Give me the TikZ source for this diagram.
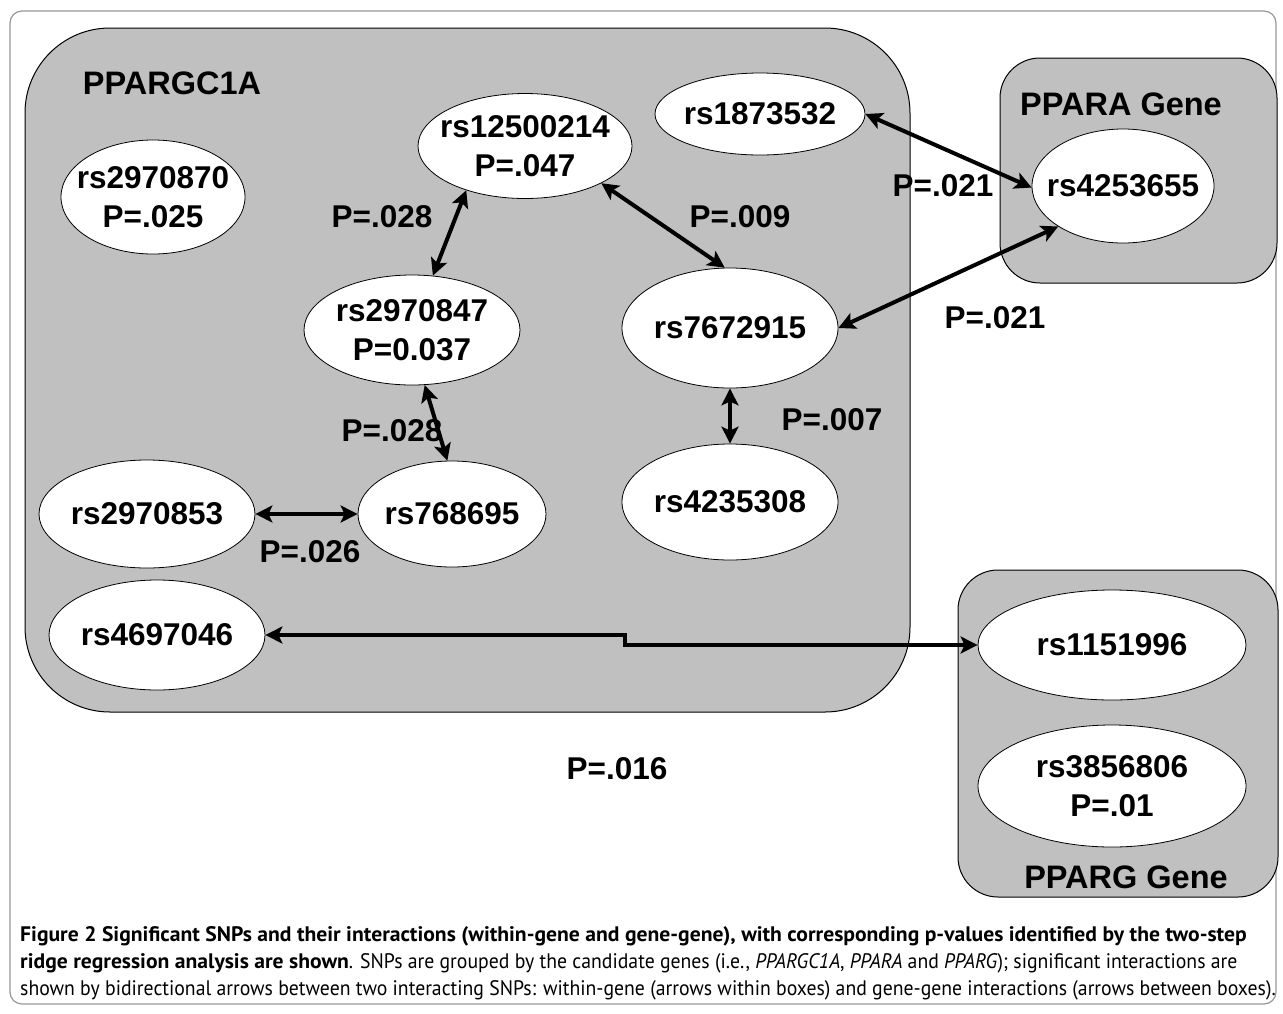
\documentclass[tikz,border=0pt]{standalone}
\usepackage{fontspec}
\setmainfont{Liberation Sans}
\newfontfamily\capfont[FakeStretch=0.94,BoldFeatures={FakeStretch=1.03}]{PT Sans}
\usetikzlibrary{shapes.geometric,arrows.meta}
\definecolor{boxgray}{RGB}{192,192,192}
\definecolor{framegray}{RGB}{150,150,150}
\begin{document}
\begin{tikzpicture}[x=1pt,y=-1pt,
  gene/.style={draw=black, line width=1pt, fill=boxgray},
  snp/.style={ellipse, draw=black, line width=0.8pt, fill=white, inner sep=-40pt, align=center,
    font=\bfseries\fontsize{31.5}{39}\selectfont},
  lbl/.style={font=\bfseries\fontsize{31.5}{36}\selectfont, inner sep=0pt},
  glbl/.style={font=\bfseries\fontsize{32.5}{36}\selectfont, inner sep=0pt},
  arr/.style={{Stealth[length=17pt,width=17pt,inset=4pt]}-{Stealth[length=17pt,width=17pt,inset=4pt]}, line width=4pt},
  captext/.style={font=\capfont\fontsize{21}{26}\selectfont, anchor=base west, inner sep=0pt}]
\useasboundingbox (0,0) rectangle (1283,1013);
% outer frame
\draw[framegray, line width=1.2pt, rounded corners=12pt] (10,11) rectangle (1276,1004);
% gene boxes
\draw[gene, rounded corners=85pt] (25,28) rectangle (910,712);
\draw[gene, rounded corners=40pt] (1000,58) rectangle (1277,283);
\draw[gene, rounded corners=40pt] (958,570) rectangle (1278,897);
% gene labels
\node[glbl] (gA) at (172,83) {PPARGC1A};
\node[glbl] (gB) at (1121,104) {PPARA Gene};
\node[glbl] (gC) at (1126,877) {PPARG Gene};
% SNPs
\node[snp, minimum width=184pt, minimum height=114pt] (s2970870) at (153,197) {rs2970870\\P=.025};
\node[snp, minimum width=214pt, minimum height=105pt] (s12500214) at (525,146) {rs12500214\\P=.047};
\node[snp, minimum width=210pt, minimum height=82pt] (s1873532) at (760,114) {rs1873532};
\node[snp, minimum width=182pt, minimum height=114pt] (s4253655) at (1123,186) {rs4253655};
\node[snp, minimum width=216pt, minimum height=110pt] (s2970847) at (412,330) {rs2970847\\P=0.037};
\node[snp, minimum width=216pt, minimum height=120pt] (s7672915) at (730,328) {rs7672915};
\node[snp, minimum width=188pt, minimum height=106pt] (s768695) at (452,514) {rs768695};
\node[snp, minimum width=216pt, minimum height=116pt] (s4235308) at (730,502) {rs4235308};
\node[snp, minimum width=216pt, minimum height=108pt] (s2970853) at (147,514) {rs2970853};
\node[snp, minimum width=216pt, minimum height=110pt] (s4697046) at (157,635) {rs4697046};
\node[snp, minimum width=268pt, minimum height=110pt] (s1151996) at (1112,645) {rs1151996};
\node[snp, minimum width=268pt, minimum height=122pt] (s3856806) at (1112,786) {rs3856806\\P=.01};
% p-value labels
\node[lbl] (p1) at (382,217) {P=.028};
\node[lbl] (p2) at (740,217) {P=.009};
\node[lbl] (p3) at (943,186) {P=.021};
\node[lbl] (p4) at (995,318) {P=.021};
\node[lbl] (p5) at (392,431) {P=.028};
\node[lbl] (p6) at (832,420) {P=.007};
\node[lbl] (p7) at (310,552) {P=.026};
\node[lbl] (p8) at (617,769) {P=.016};
% arrows
\draw[arr] (s12500214.217) -- (s2970847.69);
\draw[arr] (s12500214.334) -- (s7672915.95);
\draw[arr] (s1873532.east) -- (s4253655.181);
\draw[arr] (s7672915.east) -- (s4253655.212);
\draw[arr] (s2970847.283) -- (s768695.95);
\draw[arr] (s7672915.south) -- (s4235308.north);
\draw[arr] (s2970853.east) -- (s768695.west);
\draw[arr] (s4697046.east) -- ++(360,0) |- (s1151996.west);
% caption
\node[captext] (c1) at (20,941) {\bfseries Figure 2 Significant SNPs and their interactions (within-gene and gene-gene), with corresponding p-values identified by the two-step};
\node[captext] (c2) at (20,968) {\textbf{ridge regression analysis are shown}. SNPs are grouped by the candidate genes (i.e., \textit{PPARGC1A}, \textit{PPARA} and \textit{PPARG}); significant interactions are};
\node[captext] (c3) at (20,995) {shown by bidirectional arrows between two interacting SNPs: within-gene (arrows within boxes) and gene-gene interactions (arrows between boxes).};
\end{tikzpicture}
\end{document}
